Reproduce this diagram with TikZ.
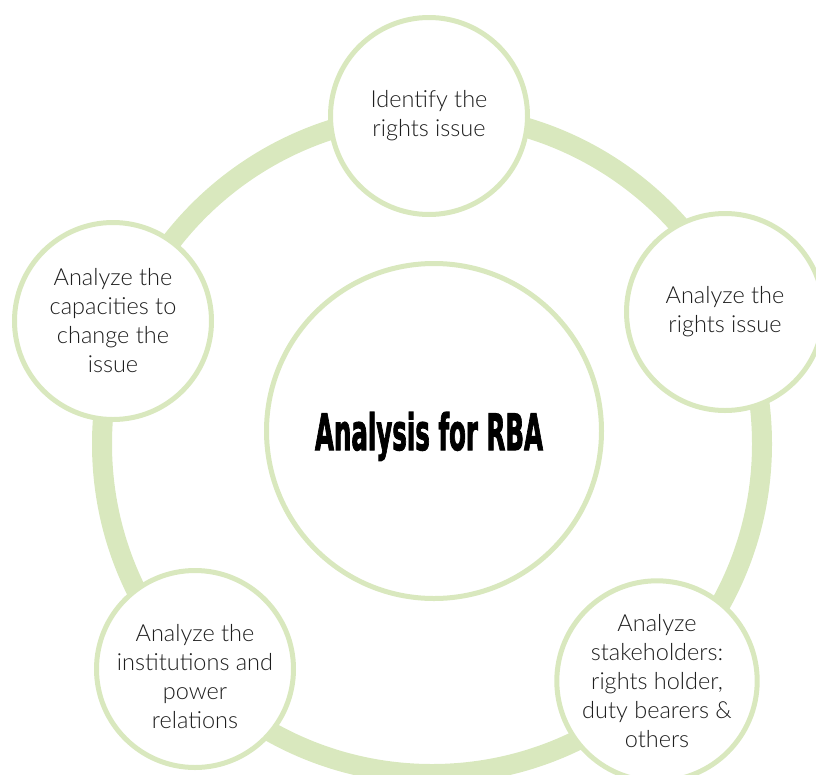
\documentclass[tikz,border=0pt]{standalone}
\usepackage{fontspec}
\setmainfont{Lato Light}
\newfontfamily\titlefont{DejaVu Sans}[BoldFeatures={FakeBold=2.5}]
\definecolor{ringgreen}{RGB}{217,232,190}
\definecolor{txt}{RGB}{30,30,30}
\begin{document}
\begin{tikzpicture}[x=1pt,y=-1pt,
  bubble/.style={circle, draw=ringgreen, line width=5pt, fill=white,
    minimum size=197pt, inner sep=0pt, align=center, text=txt,
    font=\fontsize{23.5}{29}\selectfont},
  bubbletext/.style={inner sep=0pt, align=center, text=txt,
    font=\fontsize{23.5}{29}\selectfont},
  hub/.style={circle, draw=ringgreen, line width=5pt, fill=white,
    minimum size=335pt, inner sep=0pt},
  ring/.style={draw=ringgreen, line width=20pt}]
\useasboundingbox (0,0) rectangle (816,774);
\coordinate (ringc) at (432,444);
\draw[ring] (ringc) circle[radius=330pt];
\node[hub] (hub) at (434,431) {};
\node[anchor=base, inner sep=0pt] (title) at (429,450)
  {\resizebox{228pt}{38pt}{\titlefont\bfseries Analysis for RBA}};
\node[bubble] (top) at (429,116) {Identify the\\rights issue};
\node[bubble] (right) at (725,312) {Analyze the\\rights issue};
\node[bubble] (bright) at (657,681) {Analyze\\stakeholders:\\rights holder,\\duty bearers \&\\others};
\node[bubble] (bleft) at (195,669) {};
\node[bubbletext] (blefttext) at (195,677) {Analyze the\\institutions and\\power\\relations};
\node[bubble] (left) at (113,321) {Analyze the\\capacities to\\change the\\issue};
\end{tikzpicture}
\end{document}
